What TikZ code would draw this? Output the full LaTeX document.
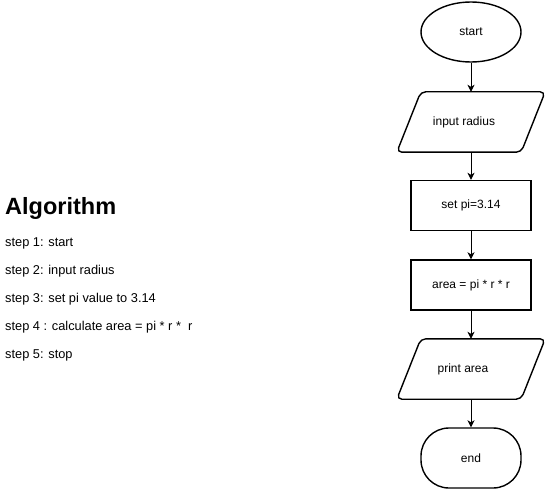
\documentclass[tikz,border=0pt]{standalone}
\usepackage{fontspec}
\setmainfont{Liberation Sans}
\usetikzlibrary{shapes.geometric,arrows.meta}
\begin{document}
\begin{tikzpicture}[x=1pt,y=-1pt,
  shapebox/.style={draw=black,line width=1.4pt,fill=white,font=\fontsize{12}{14}\selectfont,inner sep=0pt},
  iobox/.style={inner sep=0pt,minimum width=124pt,minimum height=60pt},
  iooutline/.style={draw=black,line width=1.4pt,fill=white,rounded corners=5pt},
  iotext/.style={font=\fontsize{12}{14}\selectfont,inner sep=0pt},
  procbox/.style={shapebox,rectangle,minimum width=120pt,minimum height=50pt},
  termbox/.style={shapebox,ellipse,minimum width=100pt,minimum height=60pt},
  endbox/.style={shapebox,rectangle,rounded corners=28pt,minimum width=100pt,minimum height=60pt},
  flow/.style={draw=black,line width=1pt,-{Stealth[length=7pt,width=7pt,inset=2pt]}},
  steptext/.style={anchor=west,inner sep=0pt,font=\fontsize{12.8}{14}\selectfont},
]
\useasboundingbox (0,0) rectangle (548,489);
\fill[white] (0,0) rectangle (548,489);

\node[termbox] (start) at (471,32) {start};
\node[iobox] (input) at (471,122) {};
\node[procbox] (setpi) at (471,205.5) {set pi=3.14};
\node[procbox] (area) at (471,285) {area = pi * r * r};
\node[iobox] (print) at (471,369) {};
\node[endbox] (end) at (471,458) {end};

\foreach \n in {input,print}{
  \draw[iooutline] ([xshift=-12pt]\n.south west) -- ([xshift=12pt]\n.north west)
    -- ([xshift=12pt]\n.north east) -- ([xshift=-12pt]\n.south east) -- cycle;
}
\node[iotext] (inputtext) at ([xshift=-7pt]input.center) {input radius};
\node[iotext] (printtext) at ([xshift=-8pt]print.center) {print area};

\draw[flow] (start) -- (input);
\draw[flow] (input) -- (setpi);
\draw[flow] (setpi) -- (area);
\draw[flow] (area) -- (print);
\draw[flow] (print) -- (end);

\node[anchor=west,inner sep=0pt,font=\fontsize{23.5}{26}\selectfont\bfseries] (title) at (5,208) {Algorithm};
\node[steptext] (s1) at (5,243) {step 1: start};
\node[steptext] (s2) at (5,271) {step 2: input radius};
\node[steptext] (s3) at (5,299) {step 3: set pi value to 3.14};
\node[steptext] (s4) at (5,327) {step 4 : calculate area = pi * r *\ \ r};
\node[steptext] (s5) at (5,355) {step 5: stop};
\end{tikzpicture}
\end{document}
